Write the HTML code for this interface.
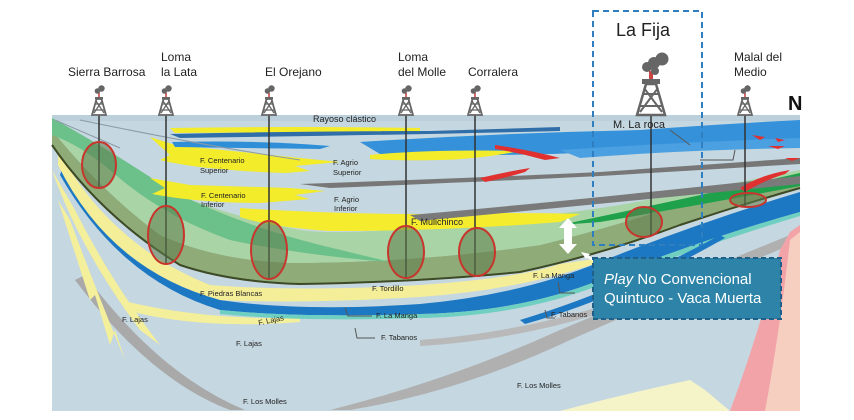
<!DOCTYPE html>
<html><head><meta charset="utf-8"><style>
html,body{margin:0;padding:0;background:#fff;width:854px;height:420px;overflow:hidden}
svg{display:block}
text{font-family:"Liberation Sans",sans-serif}
</style></head><body>
<svg width="854" height="420" viewBox="0 0 854 420" xmlns="http://www.w3.org/2000/svg">
<defs>
<g id="der">
 <path d="M-7,115 L-2.5,99 L2.5,99 L7,115 Z" fill="none" stroke="#666" stroke-width="1.8"/>
 <path d="M-5,110 L5,110 M-4,104 L4,104 M-5,113 L3,101 M5,113 L-3,101" stroke="#666" stroke-width="1.3"/>
 <rect x="-4" y="97" width="8" height="2.5" fill="#666"/>
 <rect x="-0.8" y="93" width="1.6" height="4" fill="#c44"/>
 <circle cx="-1.5" cy="91" r="2.8" fill="#666"/><circle cx="2.5" cy="88.5" r="3.2" fill="#666"/>
</g>
</defs>
<rect x="52" y="115" width="748" height="296" fill="#c5d7e0"/>
<rect x="52" y="115" width="748" height="6" fill="#bcd0dc"/>
<path d="M75,280 Q150,380 230,410 L245,410 Q160,375 85,275 Z" fill="#a9a9a9"/>
<path d="M330,410 Q450,380 560,330 Q680,280 790,235 L790,245 Q680,292 570,340 Q460,392 350,410 Z" fill="#b0b0b0"/>
<path d="M420,340 Q560,330 700,270 L700,276 Q560,338 420,346 Z" fill="#b9b9b9"/>
<path d="M730,411 Q760,330 780,250 L790,232 L800,225 L800,411 Z" fill="#f2a3a8"/>
<path d="M765,411 Q780,330 790,240 L800,232 L800,411 Z" fill="#f6cfc0"/>
<path d="M560,411 Q620,395 690,380 L705,390 L730,411 Z" fill="#f5f3c8"/>
<path d="M52,170 Q80,250 140,330 L160,345 Q110,280 75,210 Z" fill="#f4ef9a"/>
<path d="M58,200 L90,300 L95,295 L110,345 L115,330 L125,360 Q100,300 70,220 Z" fill="#f4ef9a"/>
<path d="M120,300 Q200,320 300,318 L300,322 Q200,330 125,310 Z" fill="#f4ef9a"/>
<path d="M65,160 Q110,260 220,300 Q300,312 420,304 Q520,295 600,262 Q700,222 800,192 L800,212 Q700,240 600,280 Q520,312 420,314 Q300,318 220,310 Q120,280 60,175 Z" fill="#1d78c4"/>
<path d="M220,310 Q300,318 420,314 Q520,312 600,280 Q700,240 800,212 L800,216 Q700,246 600,285 Q520,316 420,318 Q300,322 220,314 Z" fill="#6fcfc0"/>
<path d="M520,320 Q620,290 720,235 L725,238 Q620,298 525,324 Z" fill="#1d78c4"/>
<path d="M58,150 Q110,245 210,285 Q300,292 420,285 Q520,278 560,264 L600,258 L600,262 Q520,290 420,297 Q300,304 220,300 Q110,270 58,165 Z" fill="#f5ee99"/>
<path d="M52,145 Q100,215 180,265 Q230,282 300,284 Q420,282 520,272 Q600,255 680,225 Q740,205 800,188 L800,175 Q740,190 680,205 Q600,230 540,245 Q420,262 300,263 Q220,262 160,235 Q100,190 52,130 Z" fill="#8fac78"/>
<path d="M52,145 Q100,215 180,265 Q230,282 300,284 Q420,282 520,272 Q600,255 680,225 Q740,205 800,188" fill="none" stroke="#3d4a25" stroke-width="2"/>
<path d="M52,130 Q100,190 160,235 Q220,262 300,263 Q420,262 540,245 Q600,230 680,205 Q740,190 800,175 L800,170 Q700,190 620,205 Q560,215 420,228 Q330,235 300,230 Q200,210 150,180 Q100,145 52,118 Z" fill="#a8d4a6"/>
<path d="M52,118 Q110,150 170,190 Q240,225 320,245 L390,262 Q300,255 230,240 Q160,215 110,170 Q80,145 52,135 Z" fill="#6cc08a"/>
<path d="M560,225 Q680,200 800,173 L800,186 Q700,205 600,222 Z" fill="#1fa04a"/>
<path d="M240,208 Q330,214 420,214 Q520,212 580,214 L560,222 Q450,231 330,231 Q270,227 240,217 Z" fill="#f5ec2d"/>
<path d="M410,215 Q560,202 800,176 L800,184 Q600,204 420,221 Z" fill="#7a7a7a"/>
<path d="M300,184 Q500,177 600,172 Q700,165 800,158 L800,164 Q700,170 600,176 Q500,181 330,188 Z" fill="#777"/>
<path d="M150,137 L175,145 L300,158 L340,162 L295,166 L310,171 L285,173 Q200,170 160,160 L170,155 Z" fill="#f3ec2a"/>
<path d="M150,178 L190,185 L290,188 L325,191 L295,195 L310,199 L260,203 Q200,203 152,194 L165,188 Z" fill="#f3ec2a"/>
<path d="M170,128 Q300,126 420,128 L420,132 Q300,132 175,133 Z" fill="#f3ec2a"/>
<path d="M170,134 Q300,131 430,131 L560,127 L560,131 Q400,135 180,138 Z" fill="#2f6ea8"/>
<path d="M172,142 Q260,140 330,146 L320,149 Q240,148 175,147 Z" fill="#2f8ed8"/>
<path d="M360,142 Q500,133 640,130 Q720,124 800,120 L800,142 Q700,148 600,152 Q500,157 380,154 Z" fill="#3592da"/>
<path d="M560,150 Q680,142 800,138 L800,148 Q680,150 580,158 Z" fill="#4aa0e0"/>
<path d="M370,155 Q430,149 520,151 Q480,159 440,160 Q400,161 370,159 Z" fill="#f3ec2a"/>
<path d="M495,145 Q530,150 560,158 L545,160 Q520,153 495,149 Z" fill="#e03030"/>
<path d="M480,178 Q505,172 530,168 L525,172 Q505,178 485,182 Z" fill="#e03030"/>
<path d="M752,135 L765,137 L760,140 Z M775,138 L785,140 L778,142 Z M768,146 L785,146 L778,149 Z M785,158 L800,158 L792,161 Z" fill="#e03030"/>
<path d="M740,188 Q760,175 790,170 L785,174 Q765,180 745,192 Z" fill="#e03030"/>
<path d="M55,120 L120,148" stroke="#8a9aa6" stroke-width="1" fill="none"/>
<path d="M80,120 Q200,145 300,160" stroke="#8a9aa6" stroke-width="1" fill="none"/>
<path d="M670,130 L690,145 M735,150 L733,160 L700,160" stroke="#555" stroke-width="1" fill="none"/>
<path d="M558,282 L560,293 L575,293 M345,308 L348,316 L372,316 M545,310 L547,318 L555,318 M355,328 L357,338 L375,338" stroke="#555" stroke-width="1" fill="none"/>
<g stroke="#333" stroke-width="1.5">
<line x1="99" y1="115" x2="99" y2="188"/><line x1="166" y1="115" x2="166" y2="264"/>
<line x1="269" y1="115" x2="269" y2="278"/><line x1="406" y1="115" x2="406" y2="278"/>
<line x1="475" y1="115" x2="475" y2="275"/><line x1="651" y1="115" x2="651" y2="236"/>
<line x1="745" y1="115" x2="745" y2="206"/>
</g>
<g fill="#5f7a4a" fill-opacity="0.55" stroke="#c8352c" stroke-width="2">
<ellipse cx="99" cy="165" rx="17" ry="23"/>
<ellipse cx="166" cy="235" rx="18" ry="29"/>
<ellipse cx="269" cy="250" rx="18" ry="29"/>
<ellipse cx="406" cy="252" rx="18" ry="26"/>
<ellipse cx="477" cy="252" rx="18" ry="24"/>
<ellipse cx="644" cy="222" rx="18" ry="15"/>
<ellipse cx="748" cy="200" rx="18" ry="7"/>
</g>
<use href="#der" x="99"/><use href="#der" x="166"/><use href="#der" x="269"/>
<use href="#der" x="406"/><use href="#der" x="475"/><use href="#der" x="745"/>
<g transform="translate(651,-120)">
 <path d="M-14,235 L-5,204 L5,204 L14,235 Z" fill="none" stroke="#666" stroke-width="2.5"/>
 <path d="M-12,226 L12,226 M-9,214 L9,214 M-11,232 L7,208 M11,232 L-7,208" stroke="#666" stroke-width="2"/>
 <rect x="-9" y="199" width="18" height="5" fill="#666"/>
 <rect x="-2" y="191" width="4" height="8" fill="#c44"/>
</g>
<circle cx="647" cy="67" r="5" fill="#666"/><circle cx="654" cy="63" r="6" fill="#666"/><circle cx="662" cy="59" r="6.5" fill="#666"/><circle cx="655" cy="71" r="4" fill="#666"/>
<rect x="593" y="11" width="109" height="234" fill="none" stroke="#2f7fc0" stroke-width="2" stroke-dasharray="6,4"/>
<path d="M568,218 L577,228 L572,228 L572,244 L577,244 L568,254 L559,244 L564,244 L564,228 L559,228 Z" fill="#fff"/>
<path d="M602,265 L585,255" stroke="#fff" stroke-width="2.5"/>
<path d="M581,252 L590,254 L586,259 Z" fill="#fff"/>
<rect x="593" y="258" width="188" height="61" fill="#2d84a8" stroke="#1f5f88" stroke-width="2" stroke-dasharray="5,3"/>
<text x="604" y="284" font-size="15" fill="#fff"><tspan font-style="italic">Play</tspan> No Convencional</text>
<text x="604" y="303" font-size="15" fill="#fff">Quintuco - Vaca Muerta</text>
<g font-size="12" fill="#222">
<text x="68" y="76">Sierra Barrosa</text>
<text x="161" y="61">Loma</text><text x="161" y="76">la Lata</text>
<text x="265" y="76">El Orejano</text>
<text x="398" y="61">Loma</text><text x="398" y="76">del Molle</text>
<text x="468" y="76">Corralera</text>
<text x="734" y="61">Malal del</text><text x="734" y="76">Medio</text>
</g>
<text x="616" y="36" font-size="18" fill="#222">La Fija</text>
<text x="788" y="110" font-size="20" font-weight="bold" fill="#111">N</text>
<g font-size="9" fill="#222">
<text x="313" y="122">Rayoso clástico</text>
<text x="613" y="128" font-size="11">M. La roca</text>
<text x="200" y="163" font-size="7.5">F. Centenario</text><text x="200" y="173" font-size="7.5">Superior</text>
<text x="201" y="198" font-size="7.5">F. Centenario</text><text x="201" y="207" font-size="7.5">Inferior</text>
<text x="333" y="165" font-size="7.5">F. Agrio</text><text x="333" y="175" font-size="7.5">Superior</text>
<text x="334" y="202" font-size="7.5">F. Agrio</text><text x="334" y="211" font-size="7.5">Inferior</text>
<text x="411" y="225">F. Mulichinco</text>
<text x="200" y="296" font-size="7.5">F. Piedras Blancas</text>
<text x="372" y="291" font-size="7.5">F. Tordillo</text>
<text x="533" y="278" font-size="7.5">F. La Manga</text>
<text x="376" y="318" font-size="7.5">F. La Manga</text>
<text x="381" y="340" font-size="7.5">F. Tabanos</text>
<text x="551" y="317" font-size="7.5">F. Tabanos</text>
<text x="122" y="322" font-size="7.5">F. Lajas</text>
<text x="258" y="323" font-size="7.5" transform="rotate(-12 270 320)">F. Lajas</text>
<text x="236" y="346" font-size="7.5">F. Lajas</text>
<text x="243" y="404" font-size="7.5">F. Los Molles</text>
<text x="517" y="388" font-size="7.5">F. Los Molles</text>
</g>
</svg>
</body></html>
